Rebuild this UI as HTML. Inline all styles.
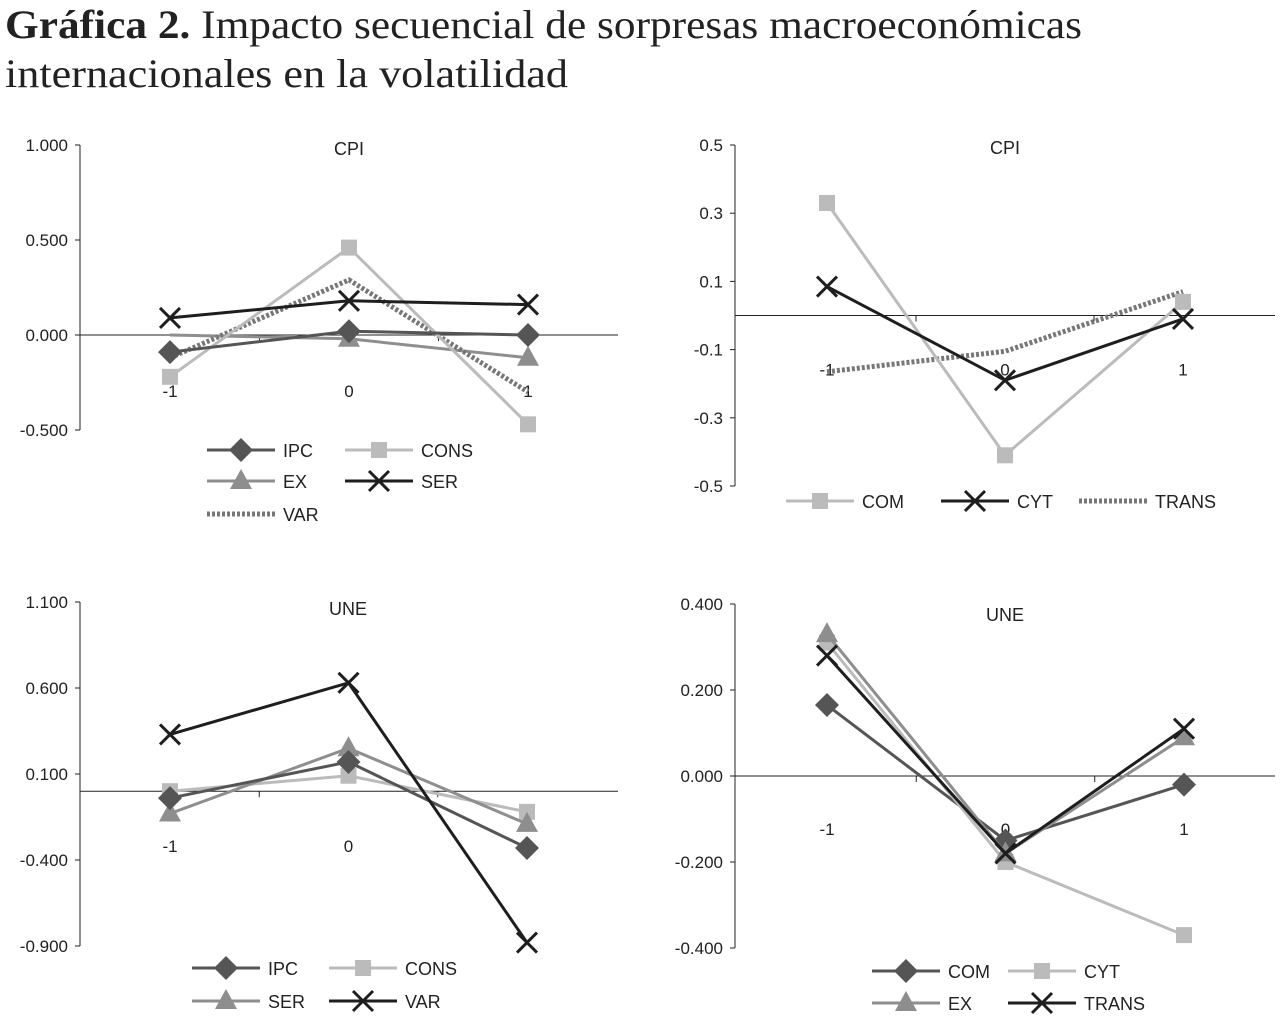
<!DOCTYPE html>
<html><head><meta charset="utf-8"><style>
html,body{margin:0;padding:0;background:#fff}
svg text{font-family:"Liberation Sans",sans-serif}
</style></head><body>
<svg id="s" width="1282" height="1030" viewBox="0 0 1282 1030">
<text x="5" y="38" font-family="Liberation Serif,serif" font-size="40" textLength="1077" lengthAdjust="spacingAndGlyphs" fill="#222" style="font-family:'Liberation Serif',serif"><tspan font-weight="bold">Gráfica 2.</tspan> Impacto secuencial de sorpresas macroeconómicas</text>
<text x="5" y="87" font-size="40" textLength="563" lengthAdjust="spacingAndGlyphs" fill="#222" style="font-family:'Liberation Serif',serif">internacionales en la volatilidad</text>
</svg>
<script>
const cats=["-1","0","1"];
// Chart 1: CPI (left)
const c1Names=["IPC","CONS","EX","SER","VAR"];
const c1IPC=[-0.09,0.02,0.00];
const c1CONS=[-0.22,0.46,-0.47];
const c1EX=[0.00,-0.02,-0.12];
const c1SER=[0.09,0.18,0.16];
const c1VAR=[-0.12,0.29,-0.30];
const c1Ticks=["1.000","0.500","0.000","-0.500"];
const c1TickVals=[1,0.5,0,-0.5];
// Chart 2: CPI (right)
const c2Names=["COM","CYT","TRANS"];
const c2COM=[0.33,-0.41,0.04];
const c2CYT=[0.085,-0.19,-0.01];
const c2TRANS=[-0.165,-0.105,0.07];
const c2Ticks=["0.5","0.3","0.1","-0.1","-0.3","-0.5"];
const c2TickVals=[0.5,0.3,0.1,-0.1,-0.3,-0.5];
// Chart 3: UNE (left)
const c3Names=["IPC","CONS","SER","VAR"];
const c3IPC=[-0.04,0.17,-0.33];
const c3CONS=[0.00,0.09,-0.12];
const c3SER=[-0.13,0.25,-0.19];
const c3VAR=[0.33,0.63,-0.88];
const c3Ticks=["1.100","0.600","0.100","-0.400","-0.900"];
const c3TickVals=[1.1,0.6,0.1,-0.4,-0.9];
// Chart 4: UNE (right)
const c4Names=["COM","CYT","EX","TRANS"];
const c4COM=[0.165,-0.15,-0.02];
const c4CYT=[0.31,-0.20,-0.37];
const c4EX=[0.33,-0.18,0.09];
const c4TRANS=[0.28,-0.18,0.11];
const c4Ticks=["0.400","0.200","0.000","-0.200","-0.400"];
const c4TickVals=[0.4,0.2,0,-0.2,-0.4];

const NS="http://www.w3.org/2000/svg";
const svg=document.getElementById('s');
function el(tag,attrs,parent){const e=document.createElementNS(NS,tag);for(const k in attrs)e.setAttribute(k,attrs[k]);(parent||svg).appendChild(e);return e;}
const STY={
 dia:{c:"#555",m:"diamond",dash:null},
 sq:{c:"#bbb",m:"square",dash:null},
 tri:{c:"#8e8e8e",m:"triangle",dash:null},
 x:{c:"#1e1e1e",m:"x",dash:null},
 dot:{c:"#777",m:null,dash:"3,2"}
};
function marker(g,type,x,y,c){
 let m;
 if(type==="diamond"){m=el('polygon',{points:`${x},${y-12} ${x+12},${y} ${x},${y+12} ${x-12},${y}`,fill:c},g);}
 else if(type==="square"){m=el('rect',{x:x-8,y:y-8,width:16,height:16,fill:c},g);}
 else if(type==="triangle"){m=el('polygon',{points:`${x},${y-12} ${x+11},${y+8} ${x-11},${y+8}`,fill:c},g);}
 else if(type==="x"){m=el('path',{d:`M${x-10} ${y-10}L${x+10} ${y+10}M${x+10} ${y-10}L${x-10} ${y+10}`,stroke:c,'stroke-width':3,fill:'none'},g);}
 return m;
}
function chart(cfg){
 const g=el('g',{});
 
 
 const Y=v=>cfg.y0-(v-cfg.vTop)*cfg.scale;
 const X=i=>cfg.xs[0]+i*cfg.dx;
 const zero=Y(0);
 const ax=el('line',{x1:cfg.ax,y1:Y(cfg.vTop),x2:cfg.ax,y2:Y(cfg.vBot),stroke:'#222','stroke-width':1},g);
 
 
 cfg.tickVals.forEach((v,i)=>{
  el('line',{x1:cfg.ax-5,y1:Y(v),x2:cfg.ax,y2:Y(v),stroke:'#222'},g);
  const t=el('text',{x:cfg.ax-12,y:Y(v)+6,'text-anchor':'end','font-size':17,fill:'#222'},g);
  t.textContent=cfg.ticks[i];
  
  
 });
 const xa=el('line',{x1:cfg.ax,y1:zero,x2:cfg.xEnd,y2:zero,stroke:'#222'},g);
 
 
 [0.5,1.5].forEach(k=>el('line',{x1:X(k),y1:zero,x2:X(k),y2:zero+6,stroke:'#222'},g));
 cats.forEach((c,i)=>{
  const t=el('text',{x:X(i),y:zero+cfg.labOff,'text-anchor':'middle','font-size':17,fill:'#222'},g);
  t.textContent=c;
  
  
 });
 const tt=el('text',{x:cfg.tx,y:cfg.ty,'text-anchor':'middle','font-size':18,fill:'#222'},g);
 tt.textContent=cfg.title;
 
 
 cfg.series.forEach(s=>{
  const st=STY[s.style];
  const pts=s.vals.map((v,i)=>X(i)+','+Y(v)).join(' ');
  const pl=el('polyline',{points:pts,fill:'none',stroke:st.c,'stroke-width':st.dash?5:3},g);
  if(st.dash)pl.setAttribute('stroke-dasharray',st.dash);
  
  
  if(st.m)s.vals.forEach((v,i)=>{
   if(s.skip&&s.skip.includes(i))return;
   const m=marker(g,st.m,X(i),Y(v),st.c);
   
   
  });
 });
 cfg.legend.forEach(L=>{
  const s=cfg.series.find(q=>q.name===L.name);const st=STY[s.style];
  const lg=el('g',{},g);
  
  
  const ln=el('line',{x1:L.x,y1:L.y,x2:L.x+68,y2:L.y,stroke:st.c,'stroke-width':st.dash?5:3},lg);
  if(st.dash)ln.setAttribute('stroke-dasharray',st.dash);
  if(st.m)marker(lg,st.m,L.x+34,L.y,st.c);
  const t=el('text',{x:L.x+76,y:L.y+7,'font-size':18,fill:'#222'},lg);
  t.textContent=L.name;
 });
}
chart({id:'chart-cpi-left',ax:80,vTop:1,vBot:-0.5,y0:145,scale:190,xs:[170],dx:179,xEnd:618,labOff:62,tx:349,ty:155,title:'CPI',
 ticks:c1Ticks,tickVals:c1TickVals,
 series:[{name:'EX',vals:c1EX,style:'tri',skip:[0]},{name:'VAR',vals:c1VAR,style:'dot'},{name:'CONS',vals:c1CONS,style:'sq'},{name:'IPC',vals:c1IPC,style:'dia'},{name:'SER',vals:c1SER,style:'x'}],
 legend:[{name:'IPC',x:207,y:450},{name:'CONS',x:345,y:450},{name:'EX',x:207,y:481},{name:'SER',x:345,y:481},{name:'VAR',x:207,y:514}]});
chart({id:'chart-cpi-right',ax:735,vTop:0.5,vBot:-0.5,y0:145,scale:341,xs:[827],dx:178,xEnd:1275,labOff:60,tx:1005,ty:154,title:'CPI',
 ticks:c2Ticks,tickVals:c2TickVals,
 series:[{name:'TRANS',vals:c2TRANS,style:'dot'},{name:'COM',vals:c2COM,style:'sq'},{name:'CYT',vals:c2CYT,style:'x'}],
 legend:[{name:'COM',x:786,y:501},{name:'CYT',x:941,y:501},{name:'TRANS',x:1079,y:501}]});
chart({id:'chart-une-left',ax:80,vTop:1.1,vBot:-0.9,y0:602,scale:172,xs:[170],dx:178.5,xEnd:618,labOff:61,tx:348,ty:615,title:'UNE',
 ticks:c3Ticks,tickVals:c3TickVals,
 series:[{name:'CONS',vals:c3CONS,style:'sq'},{name:'SER',vals:c3SER,style:'tri'},{name:'IPC',vals:c3IPC,style:'dia'},{name:'VAR',vals:c3VAR,style:'x'}],
 legend:[{name:'IPC',x:192,y:968},{name:'CONS',x:329,y:968},{name:'SER',x:192,y:1001},{name:'VAR',x:329,y:1001}]});
chart({id:'chart-une-right',ax:735,vTop:0.4,vBot:-0.4,y0:604,scale:430,xs:[827],dx:178.5,xEnd:1275,labOff:59,tx:1005,ty:621,title:'UNE',
 ticks:c4Ticks,tickVals:c4TickVals,
 series:[{name:'COM',vals:c4COM,style:'dia'},{name:'CYT',vals:c4CYT,style:'sq'},{name:'EX',vals:c4EX,style:'tri'},{name:'TRANS',vals:c4TRANS,style:'x'}],
 legend:[{name:'COM',x:872,y:971},{name:'CYT',x:1008,y:971},{name:'EX',x:872,y:1003},{name:'TRANS',x:1008,y:1003}]});
</script>
</body></html>
